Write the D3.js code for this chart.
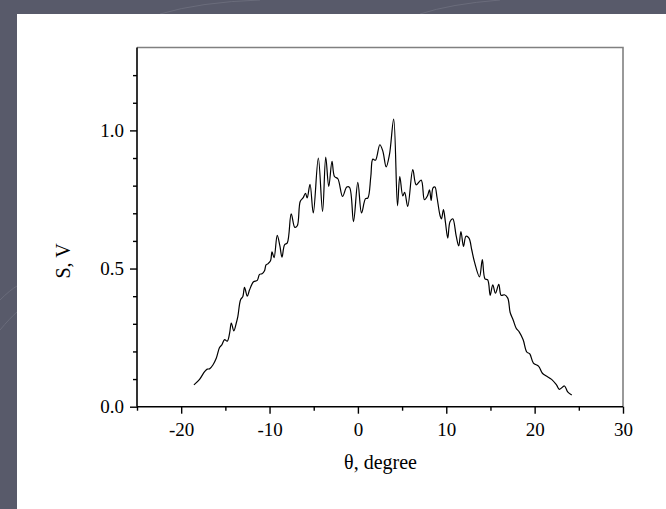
<!DOCTYPE html>
<html>
<head>
<meta charset="utf-8">
<script src="https://cdn.jsdelivr.net/npm/d3@7"></script>
<style>
  html, body { margin: 0; padding: 0; background: #585a6a; }
  svg { display: block; }
  text { font-family: "Liberation Serif", "Times New Roman", serif; fill: #000; }
</style>
</head>
<body>
<svg id="chart" width="666" height="509"></svg>
<script>
// Measured signal S (V) versus angle θ (degrees)
const theta = [
  -18.56, -17.92, -17.35, -17.05, -16.79, -16.41, -16.03, -15.66, -15.40, -15.09,
  -14.79, -14.52, -14.33, -14.04, -13.77, -13.59, -13.28, -13.02, -12.83, -12.52,
  -12.26, -11.81, -11.39, -11.13, -10.85, -10.57, -10.40, -10.19, -9.89, -9.72,
  -9.49, -9.13, -8.83, -8.59, -8.30, -7.99, -7.55, -7.14, -6.86, -6.53,
  -6.21, -5.93, -5.74, -5.42, -5.05, -4.48, -4.00, -3.64, -3.30, -2.93,
  -2.65, -2.27, -1.74, -1.26, -0.95, -0.50, -0.01, 0.41, 0.86, 1.12,
  1.46, 1.69, 1.99, 2.48, 2.82, 3.20, 3.57, 4.05, 4.48, 4.74,
  5.08, 5.29, 5.64, 6.21, 6.60, 7.16, 7.53, 7.87, 8.10, 8.29,
  8.50, 8.72, 8.95, 9.31, 9.46, 9.68, 9.91, 10.17, 10.42, 10.74,
  11.12, 11.41, 11.66, 11.95, 12.23, 12.57, 12.88, 13.19, 13.76, 14.08,
  14.38, 14.69, 14.97, 15.26, 15.57, 15.94, 16.21, 16.58, 16.96, 17.23,
  17.57, 17.91, 18.25, 18.70, 19.11, 19.45, 19.86, 20.46, 20.88, 21.33,
  21.92, 22.47, 22.81, 23.37, 23.74, 24.20
];
const signal = [
  0.079, 0.099, 0.127, 0.136, 0.137, 0.151, 0.175, 0.214, 0.224, 0.243,
  0.237, 0.266, 0.303, 0.274, 0.302, 0.326, 0.387, 0.399, 0.432, 0.400,
  0.423, 0.452, 0.457, 0.479, 0.481, 0.492, 0.513, 0.517, 0.528, 0.560,
  0.539, 0.620, 0.582, 0.541, 0.586, 0.593, 0.698, 0.649, 0.655, 0.743,
  0.756, 0.772, 0.756, 0.805, 0.701, 0.900, 0.707, 0.903, 0.797, 0.888,
  0.833, 0.825, 0.761, 0.795, 0.794, 0.670, 0.812, 0.701, 0.753, 0.755,
  0.833, 0.896, 0.892, 0.948, 0.925, 0.868, 0.912, 1.041, 0.727, 0.833,
  0.763, 0.776, 0.725, 0.858, 0.803, 0.820, 0.749, 0.763, 0.785, 0.747,
  0.792, 0.795, 0.758, 0.690, 0.680, 0.713, 0.666, 0.610, 0.669, 0.680,
  0.618, 0.582, 0.634, 0.580, 0.617, 0.610, 0.568, 0.524, 0.470, 0.532,
  0.463, 0.459, 0.403, 0.441, 0.411, 0.443, 0.403, 0.405, 0.393, 0.341,
  0.314, 0.284, 0.271, 0.242, 0.198, 0.191, 0.158, 0.146, 0.121, 0.111,
  0.099, 0.079, 0.063, 0.075, 0.054, 0.042
];

// Axis ticks
const xMajorTicks = [-20, -10, 0, 10, 20, 30];
const xMinorTicks = [-25, -15, -5, 5, 15, 25];
const yMajorTicks = [0.0, 0.5, 1.0];
const yMinorTicks = [0.1, 0.2, 0.3, 0.4, 0.6, 0.7, 0.8, 0.9, 1.1, 1.2];
const xTitle = "θ, degree";
const yTitle = "S, V";

const svg = d3.select("#chart");
const W = 666, H = 509;

// slide background and white panel
svg.append("rect").attr("width", W).attr("height", H).attr("fill", "#585a6a");
const deco = svg.append("g").attr("fill", "none").attr("stroke", "#6a6c7b").attr("stroke-width", 1);
deco.append("path").attr("d", "M0,300 Q10,290 17,286");
deco.append("path").attr("d", "M0,330 Q10,318 17,312");
deco.append("path").attr("d", "M160,14 Q200,2 260,0");
deco.append("path").attr("d", "M420,14 Q450,4 500,0");
svg.append("rect").attr("x", 17).attr("y", 14).attr("width", W - 17).attr("height", H - 14).attr("fill", "#ffffff");

const plot = { left: 137, right: 623, top: 47.5, bottom: 406.7 };

const x = d3.scaleLinear().domain([-25, 30]).range([plot.left, plot.right]);
const y = d3.scaleLinear().domain([0, 1.3]).range([plot.bottom, plot.top]);

// frame: grey top and right edges
svg.append("path")
  .attr("d", `M${plot.left},${plot.top}H${plot.right}V${plot.bottom}`)
  .attr("fill", "none").attr("stroke", "#808080").attr("stroke-width", 1.6);

// tick labels use a plain hyphen for negative numbers
const intLabel = d => (d < 0 ? "-" : "") + Math.abs(d);

// bottom axis
const gx = svg.append("g").attr("transform", `translate(0,${plot.bottom})`);
gx.call(d3.axisBottom(x).tickValues(xMinorTicks).tickSize(4).tickFormat(""));
gx.call(g => g.select(".domain").remove());
const gxMaj = svg.append("g").attr("transform", `translate(0,${plot.bottom})`);
gxMaj.call(d3.axisBottom(x).tickValues(xMajorTicks).tickSize(7).tickPadding(9).tickFormat(intLabel))
  .call(g => g.select(".domain").attr("d", `M${plot.left},0H${plot.right}`));

// left axis
const gy = svg.append("g").attr("transform", `translate(${plot.left},0)`);
gy.call(d3.axisLeft(y).tickValues(yMinorTicks).tickSize(4).tickFormat(""));
gy.call(g => g.select(".domain").remove());
const gyMaj = svg.append("g").attr("transform", `translate(${plot.left},0)`);
gyMaj.call(d3.axisLeft(y).tickValues(yMajorTicks).tickSize(7).tickPadding(6).tickFormat(d => d.toFixed(1)))
  .call(g => g.select(".domain").attr("d", `M0,${plot.bottom}V${plot.top}`));

svg.selectAll(".domain").attr("stroke", "#000").attr("stroke-width", 1.6);
svg.selectAll(".tick line").attr("stroke", "#000").attr("stroke-width", 1.4);
svg.selectAll(".tick text")
  .attr("font-family", "'Liberation Serif', 'Times New Roman', serif")
  .attr("font-size", 19).attr("fill", "#000");

// axis titles
svg.append("text")
  .attr("x", (plot.left + plot.right) / 2 + 0.5).attr("y", 469)
  .attr("text-anchor", "middle").attr("font-size", 20)
  .text(xTitle);
svg.append("text")
  .attr("transform", `translate(70,261) rotate(-90)`)
  .attr("text-anchor", "middle").attr("font-size", 20)
  .text(yTitle);

// data curve
const pts = theta.map((t, i) => [t, signal[i]]);
const line = d3.line()
  .x(d => x(d[0])).y(d => y(d[1]))
  .curve(d3.curveCatmullRom.alpha(0.5));
svg.append("path")
  .datum(pts)
  .attr("d", line)
  .attr("fill", "none")
  .attr("stroke", "#000")
  .attr("stroke-width", 1.2)
  .attr("stroke-linejoin", "round");
</script>
</body>
</html>
